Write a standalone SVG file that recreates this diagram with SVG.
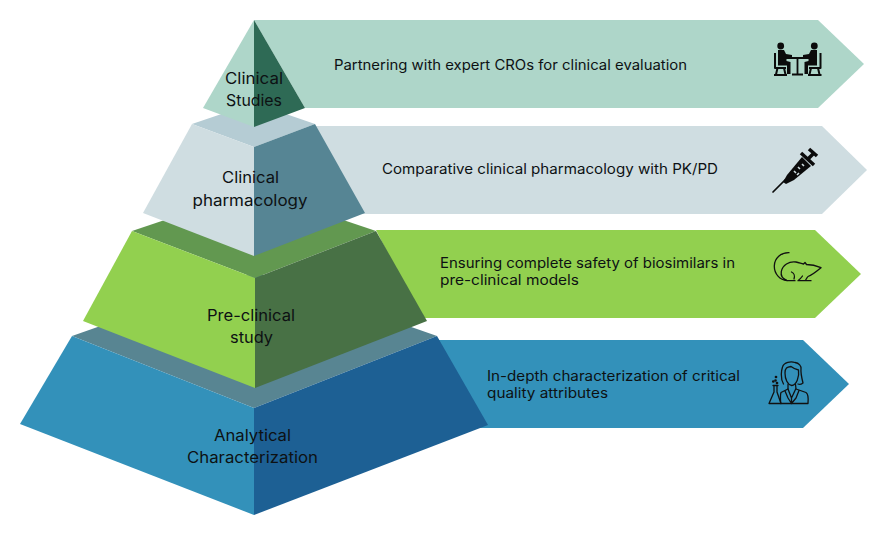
<svg xmlns="http://www.w3.org/2000/svg" width="884" height="535" viewBox="0 0 884 535">
<style>
text{font-family:"Inter","Open Sans","Liberation Sans",sans-serif;fill:#0d1113}
.lab{font-size:15.5px}
.desc{font-size:14px}
.ln{fill:none;stroke:#111;stroke-width:1.3;stroke-linecap:round;stroke-linejoin:round}
.k{fill:#0b0b0b}
.s{fill:none;stroke:#0b0b0b;stroke-linejoin:round}
</style>
<rect width="884" height="535" fill="#fff"/>
<g id="connectors"/>
<g id="band-analytical">
<polygon points="437,340 803,340 849,384 803,428 470,428" fill="#3391ba"/>
<polygon points="72,336 254,272 437,336 254,408" fill="#588592"/>
<polygon points="72,336 254,408 254,515 20,424" fill="#3391ba"/>
<polygon points="437,336 254,408 254,515 488,425" fill="#1d6094"/>
<text class="lab" x="214" y="441" textLength="77" lengthAdjust="spacingAndGlyphs">Analytical</text>
<text class="lab" x="187" y="463" textLength="131" lengthAdjust="spacingAndGlyphs">Characterization</text>
<text class="desc" x="487" y="381" textLength="253" lengthAdjust="spacingAndGlyphs">In-depth characterization of critical</text>
<text class="desc" x="487" y="398" textLength="121" lengthAdjust="spacingAndGlyphs">quality attributes</text>
<g id="icon-scientist" class="ln">
<path d="M783.500 384C780 378 781.500 370 782.500 367C784 362 791 361 795 362.500C799 363 801.500 366 801 369C800.500 373 802 379 803 383C801 384.500 799 384.500 798 384"/>
<path d="M785 373C785 368 787 367 791 366.500C793 368 796 369.500 798.500 370C799.500 377 796.500 385 791.700 385.500C787.500 385 785 379 785 373Z"/>
<path d="M788 384.500L788 389L781 392.500C780 395 780.500 400 780.700 403.500L808 403.500C808.500 398 808.500 394 806 392.500L796 389L795.500 384.500"/>
<path d="M788 389L791.500 398L795.700 389M785 391L788 398L791.500 403.500M799 390.500L796 398L791.500 403.500M791.500 398L791.500 403.500"/>
<path d="M773 385.500L778 385.500M774 385.500L774 392L769 403.500L781 403.500L777 392L777 385.500"/>
<circle cx="773.300" cy="381.500" r=".7"/><circle cx="776" cy="377" r=".7"/><circle cx="775.500" cy="380.500" r=".7"/><circle cx="777" cy="383" r=".7"/>
</g>
</g>
<g id="band-preclinical">
<polygon points="376,230 815,230 861,274 815,318 420,318" fill="#92d04f"/>
<polygon points="132,231 254,190 376,231 255,278" fill="#629850"/>
<polygon points="132,231 255,278 255,388 83,321" fill="#92d04f"/>
<polygon points="376,231 255,278 255,388 427,321" fill="#487145"/>
<text class="lab" x="207" y="321" textLength="88" lengthAdjust="spacingAndGlyphs">Pre-clinical</text>
<text class="lab" x="230" y="343" textLength="43" lengthAdjust="spacingAndGlyphs">study</text>
<text class="desc" x="440" y="268" textLength="295" lengthAdjust="spacingAndGlyphs">Ensuring complete safety of biosimilars in</text>
<text class="desc" x="440" y="285" textLength="139" lengthAdjust="spacingAndGlyphs">pre-clinical models</text>
<g id="icon-mouse" class="ln">
<path d="M789 252.700C781 252.500 774.500 258 774.300 266C774.200 274 780 280 787 280.500L795 280.700"/>
<path d="M787 280.500C783 279 780.500 276 781.300 271.500C782.500 265 789 261 796 262C799 262.500 801 263.500 803.500 264L805 262.500L806.500 264.500C811 264.500 817 266 821 267.700C817 271 812 275 808 276.500C807 278 806 279 805.500 280.500L811 280.700L798 280.700C800 279 801.500 277.500 802.500 276"/>
<path d="M791.500 272C794 273 795 276 794 279"/>
</g>
</g>
<g id="band-pharmacology">
<polygon points="315,126 822,126 867,170 822,214 362,214" fill="#cfdde1"/>
<polygon points="192,124 254,103 315,124 254,147" fill="#b5ccd4"/>
<polygon points="192,124 254,147 254,256 143,213" fill="#cfdde1"/>
<polygon points="315,124 254,147 254,256 365,213" fill="#568594"/>
<text class="lab" x="222" y="183" textLength="57" lengthAdjust="spacingAndGlyphs">Clinical</text>
<text class="lab" x="192.500" y="206" textLength="115" lengthAdjust="spacingAndGlyphs">pharmacology</text>
<text class="desc" x="382" y="174" textLength="336" lengthAdjust="spacingAndGlyphs">Comparative clinical pharmacology with PK/PD</text>
<g id="icon-syringe">
<path class="s" stroke-width="1.700" stroke-linecap="round" d="M773 192L785 180"/>
<path class="k" d="M783 182L787 175L802 157L811 166L794 180L786 184Z"/>
<path class="s" stroke-width="3.500" d="M801 153L814 165"/>
<path class="s" stroke-width="3.500" d="M808 159L814 153"/>
<path class="s" stroke-width="3.500" d="M809 149L817 156"/>
<g stroke="#cfdde1" stroke-width="1.600"><path d="M794 171L796 173M798 167L800 169M802 164L804 166M797 175L799 173"/></g>
</g>
</g>
<g id="band-clinical">
<polygon points="254,20 818,20 864,64 818,108 305,108" fill="#aed6c9"/>
<polygon points="254,20 254,127 203,108" fill="#aed6c9"/>
<polygon points="254,20 254,127 305,108" fill="#2e6a55"/>
<text class="lab" x="225" y="84" textLength="58" lengthAdjust="spacingAndGlyphs">Clinical</text>
<text class="lab" x="226" y="106" textLength="56" lengthAdjust="spacingAndGlyphs">Studies</text>
<text class="desc" x="334" y="70" textLength="353" lengthAdjust="spacingAndGlyphs">Partnering with expert CROs for clinical evaluation</text>
<g id="icon-meeting">
<circle class="k" cx="780.700" cy="46" r="3.400"/>
<circle class="k" cx="814.300" cy="46" r="3.400"/>
<path class="k" d="M778 50L784 50L786 54L792 55L792 58L786.500 58L786.500 61L790.500 62L790.500 74L787 74L787 65.500L778 65.500Z"/>
<path class="k" d="M817 50L811 50L809 54L803 55L803 58L808.500 58L808.500 61L804.500 62L804.500 74L808 74L808 65.500L817 65.500Z"/>
<path class="s" stroke-width="2" d="M775 53L775 68L786 68M777.500 68L776 74.500M784 68L785.500 74.500M774 75L787 75"/>
<path class="s" stroke-width="2" d="M820.500 53L820.500 68L809 68M818 68L819.500 74.500M811 68L809.500 74.500M808 75L821.500 75"/>
<path class="s" stroke-width="1.800" d="M786 58L809 58M797.500 58L797.500 74M792 74.500L803 74.500"/>
</g>
</g>
</svg>
